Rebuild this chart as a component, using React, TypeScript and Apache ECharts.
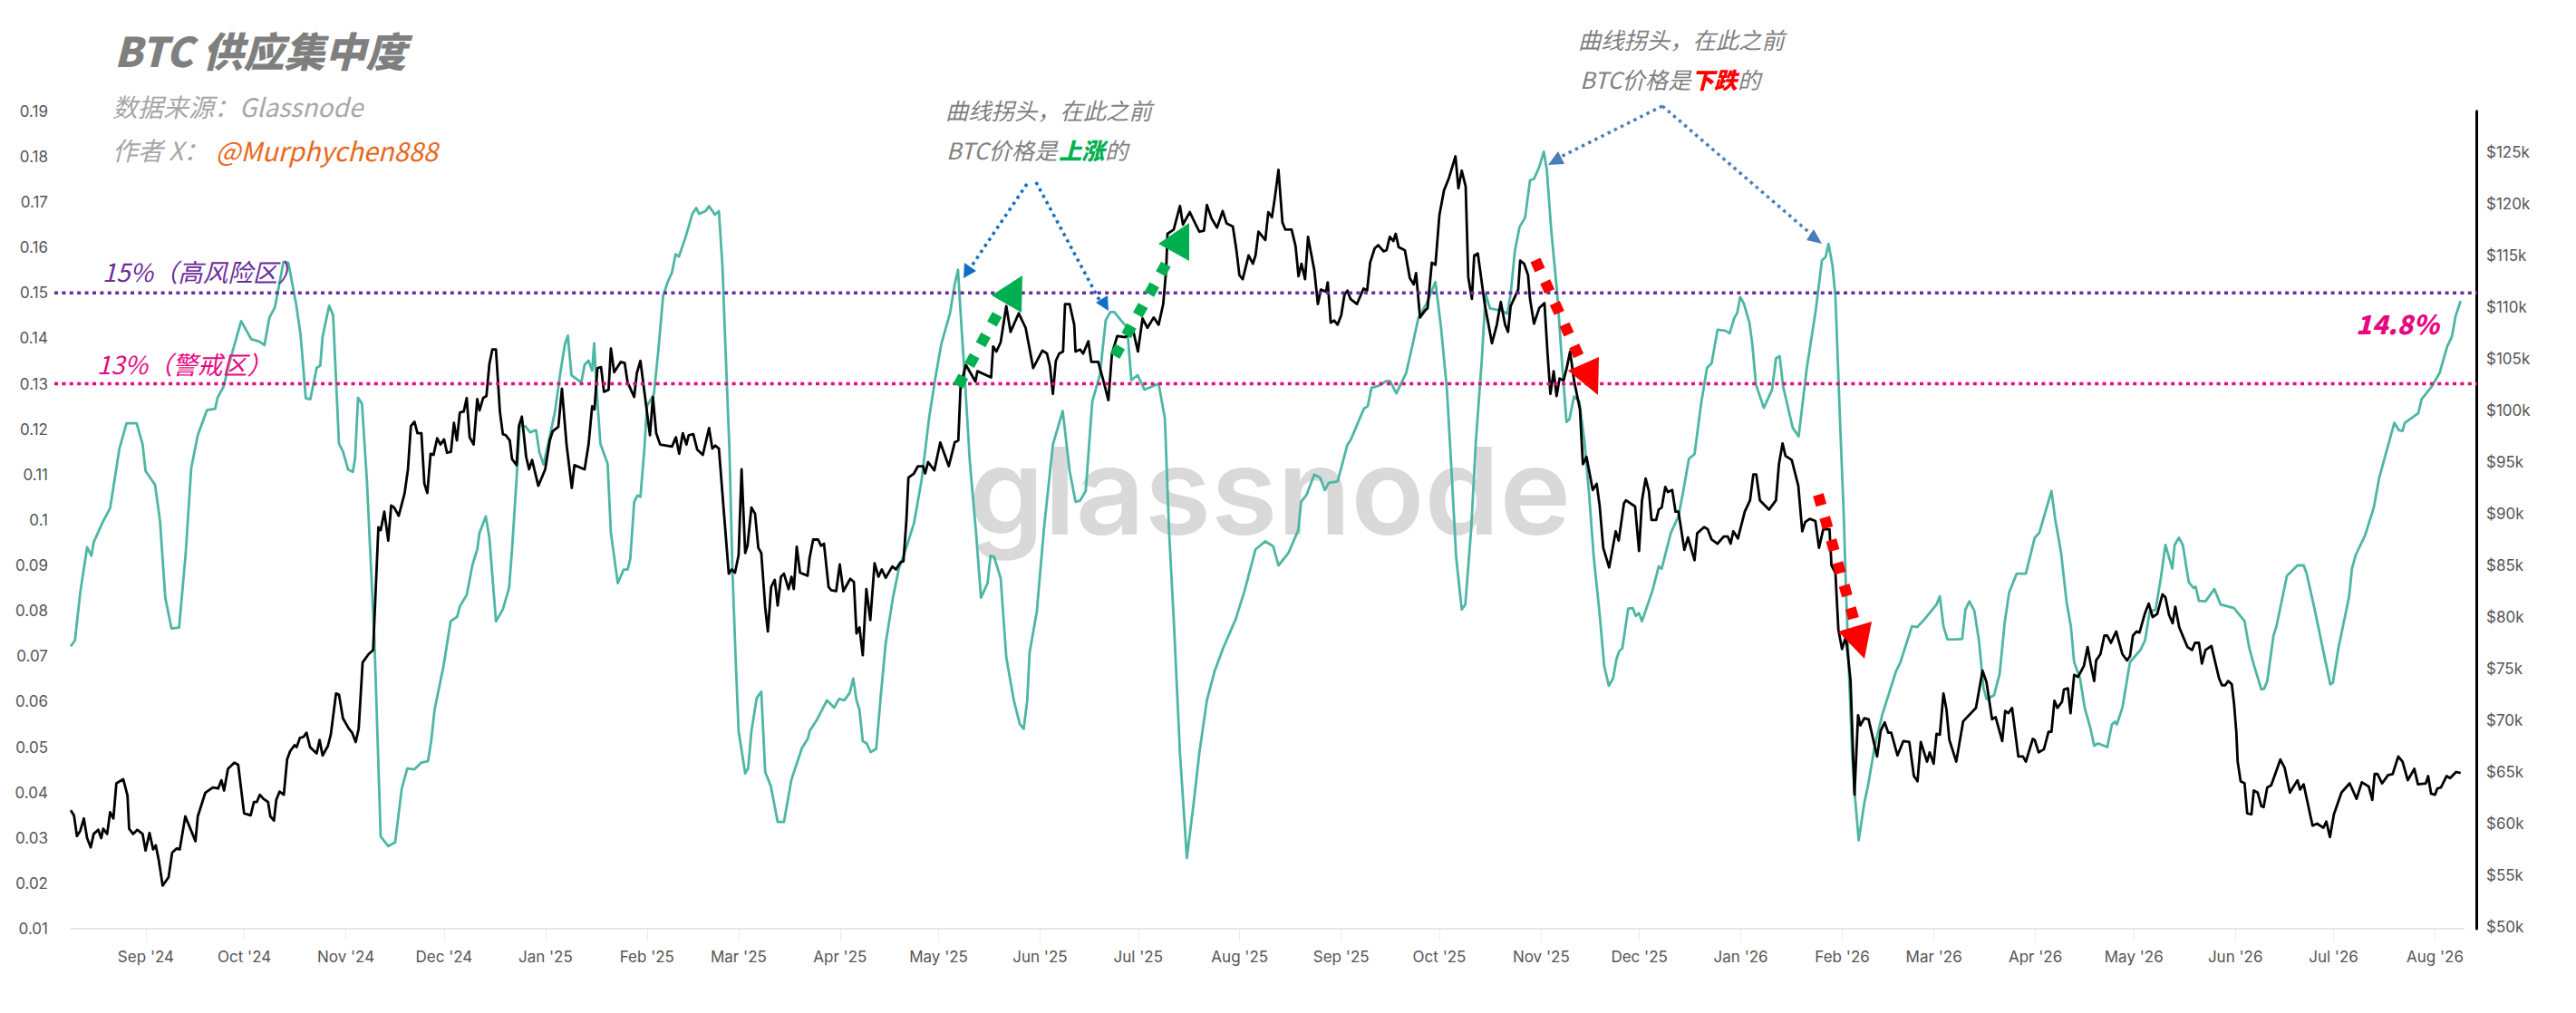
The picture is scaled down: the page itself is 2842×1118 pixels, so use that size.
import React, { useEffect, useRef } from "react";
import * as echarts from "echarts";

// x is days since the left edge of the chart (about 9 Aug 2024)
const monthLabels = [
  "Sep '24", "Oct '24", "Nov '24", "Dec '24", "Jan '25", "Feb '25", "Mar '25", "Apr '25",
  "May '25", "Jun '25", "Jul '25", "Aug '25", "Sep '25", "Oct '25", "Nov '25", "Dec '25",
  "Jan '26", "Feb '26", "Mar '26", "Apr '26", "May '26", "Jun '26", "Jul '26", "Aug '26",
];
const monthTicks = [
  22.9, 52.9, 83.8, 113.7, 144.6, 175.5, 203.4, 234.3, 264.3, 295.2, 325.1, 356,
  386.9, 416.8, 447.8, 477.7, 508.6, 539.5, 567.4, 598.3, 628.3, 659.2, 689.1, 720,
];
const concentrationTicks = [
  0.01, 0.02, 0.03, 0.04, 0.05, 0.06, 0.07, 0.08, 0.09, 0.1,
  0.11, 0.12, 0.13, 0.14, 0.15, 0.16, 0.17, 0.18, 0.19,
];
const priceTicks = [50, 55, 60, 65, 70, 75, 80, 85, 90, 95, 100, 105, 110, 115, 120, 125];

const HIGH_RISK = 0.15;
const WARNING = 0.13;

// supply concentration, [day, value]
const supplyPoints = [
  [0,.0722],[1.3,.0735],[2.9,.084],[5,.094],[6.3,.0921],[7,.0951],[9.8,.0996],[12,.1026],[13,.1072],[14.8,.1156],
  [17,.1213],[20.1,.1213],[21.9,.1166],[22.8,.1108],[25.7,.1077],[27.2,.0998],[28.8,.0829],[30.7,.0761],[33,.0763],[35,.0924],
  [36.7,.1114],[38.7,.1187],[41.5,.1242],[44,.1245],[44.7,.1269],[46.5,.1293],[48.9,.1361],[51.9,.1438],[55,.1398],[57.4,.1393],
  [59,.1385],[60.5,.1445],[62.2,.1469],[64.8,.1568],[66.3,.1566],[68.6,.1477],[70,.1408],[71.6,.1268],[73,.1266],[74.9,.1335],
  [76,.134],[76.7,.1403],[78.7,.1472],[79.9,.1451],[81.7,.1168],[82.9,.1151],[84.5,.1111],[85.9,.1106],[86.6,.1135],[87.5,.1269],
  [88.7,.1256],[90.2,.1087],[92.5,.0735],[94.4,.0303],[96.7,.0282],[98.8,.029],[100.8,.0408],[102.5,.0453],[104.7,.0451],[106.8,.0466],
  [108.8,.0469],[109.8,.0514],[110.8,.0582],[113.5,.0677],[115.7,.0777],[117.7,.0787],[118.5,.081],[120.6,.0835],[122.4,.0903],[123.8,.0935],
  [124.5,.0972],[126.4,.1008],[127.5,.0961],[129.5,.0777],[131.6,.0803],[133.5,.0851],[134.4,.0935],[135.8,.1093],[136.7,.1208],[138.5,.1206],
  [139.9,.1193],[141.7,.1198],[142.7,.115],[144,.1122],[146.3,.1198],[147.5,.124],[149.1,.1324],[150.5,.1387],[151.4,.1406],[152.5,.1319],
  [155.5,.1303],[156.5,.1342],[157.7,.1351],[158.8,.1329],[159.4,.1389],[160.1,.1293],[161.3,.1168],[163.5,.1124],[164.5,.0972],[166.6,.0861],
  [168.4,.0891],[169.6,.0891],[170.4,.0914],[171.6,.104],[172.6,.1054],[173.5,.1051],[174.7,.1156],[175.5,.1251],[177.6,.1277],[179,.1377],
  [180.4,.1493],[181.8,.1524],[183.1,.1545],[184.2,.1585],[185.2,.158],[187.3,.1624],[189.3,.1674],[190.5,.1687],[191.4,.1674],[193.3,.168],
  [194.4,.1691],[196.2,.1672],[197.4,.168],[198.5,.1556],[199.4,.1377],[200.6,.1156],[201.5,.0893],[202.5,.0693],[203.4,.0535],[205.4,.0442],
  [206.3,.0453],[207.3,.0535],[208.9,.0608],[210.3,.0622],[211.5,.0445],[213.2,.0414],[215.3,.0335],[217.2,.0335],[219.5,.0429],[222.7,.0498],
  [224.5,.0519],[225,.0535],[227.3,.0561],[230.3,.0603],[232.5,.0587],[234,.0606],[235.6,.0603],[237.2,.0619],[238.3,.0651],[239.3,.0603],
  [240.2,.0582],[241.2,.0513],[242.4,.0508],[243.6,.0489],[245.3,.0496],[246.7,.0614],[248.2,.0729],[250.4,.0829],[252.2,.0893],[254.5,.094],
  [256.8,.0993],[259.1,.1087],[261.4,.1224],[263.2,.1308],[265.1,.1387],[267.8,.1456],[269.2,.1519],[270.2,.1551],[271,.1456],[272.4,.1298],
  [273.8,.1129],[275.7,.0972],[277.2,.0829],[279.2,.0861],[280.1,.0921],[281.2,.0919],[283.2,.0872],[284.9,.0698],[287.2,.0603],[289,.0551],
  [290.2,.054],[291.3,.0603],[292,.0708],[294.2,.0798],[296.4,.0982],[299.1,.1166],[302.1,.124],[304.2,.1108],[306,.104],[307.4,.1043],
  [309.1,.1064],[311.1,.1261],[313.4,.1319],[315.2,.144],[316.6,.1458],[317.8,.1458],[319.8,.144],[321.7,.1424],[323,.1308],[324.9,.1319],
  [327,.1287],[331.3,.13],[333.2,.1224],[334.5,.0972],[335.9,.0782],[337.8,.0487],[339.9,.0256],[341.9,.0372],[343.7,.0487],[346,.0603],
  [348.3,.0666],[350.9,.0717],[354.8,.0782],[357.5,.0845],[360.8,.0935],[362.1,.0943],[363.8,.0953],[366.2,.0942],[367.8,.09],[370.8,.0927],
  [373.8,.0977],[374.7,.104],[376.4,.1056],[378.7,.11],[380.5,.1093],[381.9,.1066],[383.1,.1082],[385.8,.1085],[388.8,.1166],[389.7,.1175],
  [393.8,.1245],[395,.1251],[396.1,.1291],[398.4,.1296],[400.7,.1306],[401.8,.1306],[403.7,.1279],[406.7,.1324],[409,.1398],[410.4,.1445],
  [412.9,.1477],[415.6,.1524],[417.3,.1424],[419.1,.1287],[420.5,.1108],[421.9,.0919],[423.6,.0803],[424.7,.0814],[426.5,.0982],[427.9,.1172],
  [429.7,.1351],[430.9,.1498],[432.2,.1466],[435.7,.1461],[437.5,.1454],[438.5,.1498],[439.8,.1593],[441.2,.1645],[442.9,.1666],[444.4,.1748],
  [445.6,.1751],[447.2,.1777],[448.6,.1811],[449.5,.1772],[450.9,.1635],[452.7,.1498],[454.1,.1351],[455.5,.1216],[456.4,.1222],[457.8,.1272],
  [459.4,.1261],[461,.1172],[462.4,.1056],[463.8,.0919],[465.6,.0793],[467,.0678],[468.4,.0635],[469.7,.0651],[470.7,.0693],[471.6,.0712],
  [472.5,.0717],[474.3,.0805],[475.7,.0806],[476.6,.0789],[477.6,.0795],[478.5,.0777],[481.7,.0845],[483.6,.0898],[484.5,.0893],[487.3,.0972],
  [489.6,.1008],[491,.1061],[492.8,.1135],[494.5,.1145],[496.5,.1256],[498.3,.1335],[499.7,.1345],[501.5,.1419],[503.8,.1417],[505.2,.1411],
  [506.6,.1445],[507.5,.1456],[508.4,.1491],[509.5,.1477],[511.2,.1435],[512.1,.1387],[513.2,.1298],[515.6,.1247],[518.1,.1287],[519.3,.1356],
  [520.4,.1361],[521.5,.1293],[524.4,.1203],[526.2,.1184],[528.7,.1335],[531.4,.1461],[533.3,.1572],[534.4,.1579],[535.3,.1608],[536.5,.1561],
  [537.4,.1493],[538.8,.1219],[539.9,.1019],[540.6,.0851],[541.6,.0651],[542.5,.0482],[543.4,.0387],[544.5,.0295],[546.2,.0377],[547.3,.0414],
  [549.4,.0503],[551.7,.0572],[555.8,.0666],[557.2,.0687],[560.7,.0766],[562.3,.0764],[564.6,.0782],[568.2,.0814],[569.2,.0832],[570.3,.0766],
  [571.5,.0737],[574.2,.0737],[576,.0738],[577,.0803],[578.2,.0821],[579.7,.08],[581.1,.0735],[582.5,.063],[583.4,.0606],[585.7,.0614],
  [587.4,.0661],[589,.0777],[590.3,.084],[592.6,.0882],[595.4,.0882],[598.1,.0961],[599.5,.0972],[603.2,.1064],[604.3,.1003],[606.1,.0929],
  [607.8,.0819],[609.1,.0766],[610.1,.0687],[611.9,.0651],[613.3,.0587],[615.1,.054],[616.2,.0503],[617.4,.0508],[620.2,.05],[621.6,.055],
  [622.5,.0556],[623.1,.055],[624.8,.0587],[627.1,.0687],[630.3,.0714],[631.7,.0735],[633.1,.0798],[634.9,.0803],[636.5,.0872],[637.9,.0945],
  [640,.0893],[640.7,.0945],[642,.0961],[643.2,.0945],[645,.0863],[646.4,.0851],[647.1,.0853],[648.1,.0822],[650.1,.0821],[652.8,.0848],
  [654.7,.0814],[658.8,.0806],[662,.0777],[663.4,.0719],[664.8,.0682],[667.1,.0627],[668,.0629],[668.9,.0645],[670.8,.0745],[671.7,.0766],
  [674.9,.0877],[678.1,.09],[680,.09],[680.9,.0882],[683.2,.0808],[688.1,.0638],[688.9,.0642],[690.6,.0719],[693.8,.083],[694.7,.0893],
  [695.9,.0924],[698.7,.0966],[701.4,.1029],[703,.1093],[707.6,.1214],[709,.1198],[710.1,.1196],[710.8,.1214],[714.9,.1235],[715.9,.1266],
  [719.1,.1295],[721.4,.1324],[723.7,.1382],[725.1,.1403],[726.3,.145],[727.8,.1482],
];

// BTC price in $k, [day, value]
const pricePoints = [
  [0,61.3],[1,60.8],[1.9,58.8],[2.9,59.3],[4,60.5],[5,58.6],[6.1,57.7],[7,59],[8.4,59.4],[9.3,58.6],
  [9.9,59.5],[11.1,59],[12,61.1],[13,60.5],[13.9,63.9],[16,64.3],[17.3,62.7],[17.8,59.5],[19,59],[20.3,59.4],
  [21.9,59],[22.8,57.4],[24,59.1],[25.1,57.5],[25.9,57.9],[26.8,56.5],[28,54],[29.8,54.8],[30.9,57.2],[32.3,57.6],
  [33.2,57.5],[34.9,60.7],[38,58.3],[38.7,60.7],[39.6,61.6],[41,63],[43.3,63.5],[44.9,63.4],[45.9,64.2],[46.7,63.2],
  [47.9,65.3],[49.8,65.9],[51,65.7],[52.8,61],[54.8,60.8],[55.8,62.1],[56.7,62.1],[57.6,62.8],[58.7,62.4],[60.1,62.1],
  [60.8,60.7],[61.9,60.3],[62.6,62.3],[63.6,63.1],[64.9,62.8],[65.9,66.2],[66.8,67],[68.2,67.6],[68.8,67.4],[69.8,68.3],
  [70.9,68.4],[71.8,68.8],[72.9,67.4],[74.9,66.8],[75.8,68.1],[76.7,66.6],[78.3,67.5],[79.2,68.6],[80.8,72.6],[81.7,72.5],
  [82.9,70.2],[84.7,69.2],[85.7,68.8],[86.8,67.9],[87.7,69.2],[88.9,75.6],[90.7,76.4],[92.1,76.8],[93.7,88.7],[94.4,88.4],
  [95.5,90.2],[96.7,87.4],[97.6,90.8],[98.5,90.6],[99.9,89.8],[101.7,92],[102.7,94.3],[103.6,98.5],[104.7,98.9],[105.6,97.8],
  [106.8,97.8],[107.7,92.9],[108.6,92],[109.6,95.8],[110.5,95.7],[111.6,97.3],[112.6,96.7],[113.7,97.2],[114.6,95.9],[115.8,96],
  [116.7,98.8],[117.6,97.1],[118.5,99.8],[119.7,99.9],[120.6,101.2],[121.5,97.4],[122.7,96.7],[123.8,101.1],[124.5,100],[125.6,101.2],
  [126.6,101.4],[127.5,104.5],[128.4,105.9],[129.5,105.9],[130.7,99.9],[131.6,97.7],[132.5,97.6],[133.7,97.1],[134.4,95.3],[135.8,94.7],
  [136.5,98.5],[137.4,99.4],[138.7,95.5],[139.6,94.3],[140.5,95.2],[142.4,92.7],[144.5,94.3],[145.9,97.1],[146.8,98],[148.5,98.4],
  [149.6,102.1],[151,96.7],[152.6,92.5],[153.4,94.7],[156.5,94.3],[157.7,96.7],[158.8,100.4],[159.5,100.1],[160.4,104.1],[161.5,104.2],
  [162.4,101.8],[163.8,102],[164.5,106],[165.5,103.7],[167.5,104.7],[168.7,104.6],[169.6,102.7],[171.6,101.3],[172.4,103.6],[173.5,104.8],
  [176.4,97.6],[177.3,101.3],[178.3,97.8],[179.5,96.7],[183.1,96.5],[184.3,97.4],[185.3,95.8],[186.4,97.8],[187.5,96.7],[188.2,97.6],
  [189.6,97.7],[190.8,96.2],[192.5,95.7],[194.4,98.3],[195.4,96.3],[196.3,96.6],[197.4,96.3],[198.8,90.6],[200.4,84.2],[201.3,84.6],
  [202.3,84.3],[203.4,86],[204.3,94.3],[205.4,86.2],[206.1,86.9],[207.3,90.6],[208.4,90],[209.4,86.7],[210.3,86.2],[211.5,80.9],
  [212.3,78.6],[213.3,82.9],[214.4,83.6],[215.3,81.1],[216.3,83.9],[217.2,84.2],[218.6,82.7],[219.5,83.9],[220.2,82.7],[221.1,86.8],
  [222.1,84.3],[224.4,84],[225,85.7],[226.1,87.5],[227.6,87.5],[228.5,86.9],[229.4,87.1],[230.8,82.9],[231.6,82.6],[233.1,82.5],
  [234.2,85.1],[235.3,82.5],[237.4,83.7],[238.5,83.4],[239.3,78.4],[240.2,79],[241.2,76.3],[242.3,82.7],[243.5,79.7],[244.8,85.2],
  [246,83.9],[247,84.6],[248.2,83.8],[250.2,84.9],[251.3,84.6],[252.7,85.3],[253.6,85.4],[254.5,89.4],[255.1,93.5],[256.8,93.9],
  [258,94.6],[259.6,94.6],[260.2,93.9],[261.1,95],[263,94.2],[264.8,96.9],[267.4,94.6],[269.2,96.9],[270.3,97.1],[271,102.4],
  [272.6,104.4],[275.5,102.8],[276.1,103.8],[280.3,103.2],[280.9,106.2],[281.9,105.7],[283.2,106.6],[284.9,110.1],[286.2,107.6],[288.7,109.4],
  [290.8,108],[293.1,104.1],[295.9,105.8],[297.3,105.5],[298.2,104.3],[299.1,101.6],[300,104.8],[301,105.5],[302.2,105.7],[302.8,110.3],
  [304.2,110.3],[305.6,108.3],[306,105.7],[307.4,105.9],[308.3,105.5],[309.9,106.7],[310.8,104.7],[312.9,104.7],[314.3,103.1],[316,101],
  [317.1,105.5],[318.7,107.2],[321.2,107.1],[323.5,107.8],[325,105.7],[326.4,108.9],[327.9,108],[329.8,109],[331.3,108.3],[332.7,110.3],
  [333.6,113.6],[334,117.1],[335.9,117.5],[337.8,119.8],[338.7,118],[340.8,119.2],[342.6,118],[343.7,117.3],[345.1,117.4],[346,119.9],
  [347.4,118.6],[349.1,117.7],[350.8,119.3],[352,118.1],[353.9,117.8],[355,115.5],[355.9,113.1],[356.9,112.7],[358.7,115],[360,114.2],
  [360.8,115],[361.7,117.3],[363.8,116.5],[364.7,119.2],[365.8,118.7],[366.7,120.6],[367.8,123.3],[369,118.2],[369.9,117.5],[371.8,117.5],
  [373,115.9],[373.9,113],[374.8,114.2],[375.9,112.7],[376.8,116.8],[378.7,113.6],[379.8,110.3],[380.7,111.7],[382.3,111.5],[382.8,112.4],
  [383.7,108.5],[384.8,108.7],[385.8,108.3],[386.9,109.2],[387.9,111.2],[388.8,111.6],[389.7,110.8],[391.7,110.3],[393.7,111.8],[394.8,111.6],
  [395.7,114.3],[397.1,115.7],[398.2,116],[399.8,115.4],[400.7,115.5],[401.7,116.8],[402.8,116.4],[403.5,117.1],[404.4,115.8],[406.3,115.5],
  [407.8,112.8],[409,112.2],[409.7,113.3],[410.9,109],[412.5,109.7],[413.2,109.9],[414.5,114.3],[415.6,114.1],[416.8,118.9],[418.2,121.3],
  [419.6,122.4],[421.7,124.6],[422.6,121.5],[423.6,123.2],[424.8,121.7],[425.6,112.9],[426.7,110.8],[427.4,115],[428.5,115.2],[430.6,110.3],
  [432.8,106.5],[434.3,108.3],[435.5,110.5],[436.8,108.3],[437.7,107.6],[438.5,110.1],[440.8,111.7],[441.4,114.5],[442.6,114.2],[443.8,113.1],
  [444.4,110.8],[445.6,108.4],[447.2,109.9],[448.8,110.4],[449.7,105.7],[450.6,101.6],[451.6,103.8],[452.5,101.4],[453.4,103.1],[454.6,102.9],
  [455.5,104],[456.6,105.7],[457.8,102.9],[459.6,100.1],[460.5,94.8],[461.6,95.5],[463.5,92.3],[464.7,92.9],[465.6,90.8],[466.7,86.7],
  [468.5,84.8],[470.5,88.3],[471.4,87.4],[473,91],[473.6,91.3],[476.4,90.7],[477.6,86.4],[478.5,91.3],[479.6,93.4],[480.6,92.2],
  [481.4,89.4],[482.8,89.4],[483.6,90.4],[484.5,90.6],[485.6,92.6],[486.4,92.1],[487.7,92.3],[488.7,90.2],[489.6,90.2],[491.4,86.5],
  [492.5,87.7],[494.5,85.5],[495.3,88.1],[497.4,88.7],[498.5,88.5],[499.7,87.5],[501.5,87.1],[503.4,87.8],[504.6,87.8],[505.5,87.1],
  [506.3,88.3],[507.7,87.6],[509.8,90.2],[511.4,91.3],[512.4,93.8],[513.3,93.8],[514.4,91.3],[517.2,90.4],[519.3,91.3],[520.2,94.8],
  [521.3,96.8],[522.2,95.6],[524.1,95.2],[526.1,92.7],[527.3,88.3],[528.2,89.2],[529.6,89.5],[531.3,89.3],[532.4,86.7],[533.7,88.5],
  [535.6,88.5],[536.2,85],[537.4,84.3],[538.3,78.8],[539.4,76.9],[540.6,78.1],[542,73.9],[543.2,62.8],[544.3,70.5],[545,69.5],
  [546.2,70.2],[547.5,70.1],[550.1,66.5],[551.2,69],[552.4,69.8],[553.5,68.8],[554.4,68.8],[556.3,66.6],[558.1,68],[559.9,67.9],
  [561.3,64.6],[562.4,64.1],[563.4,67.9],[565.3,66],[566.1,66.9],[567.3,65.8],[568.2,68.7],[569.2,68.6],[570.3,72.6],[571.2,71.1],
  [572.1,68.1],[574.2,66],[576.3,69.9],[580.2,71.2],[582.2,74.8],[583.4,73.7],[585.1,70.1],[586.2,70.3],[588.2,68],[589.1,70.9],
  [590.1,70.7],[591.2,71.2],[593.1,66.5],[594.5,66.5],[595.4,66],[597.5,68.2],[598.1,68.1],[599.3,66.9],[600.9,67.2],[602.3,68.9],
  [603.2,68.9],[604.1,71.9],[605,71.2],[606.4,71.8],[607,73],[608.2,73.1],[609,70.7],[610.1,74.4],[611.3,74.2],[613.1,75.3],
  [614.2,77.1],[615.1,75.5],[616.2,73.8],[616.8,75.8],[618.1,76.4],[619.3,78.2],[620.2,78.2],[621.3,77.5],[622.9,78.6],[624.8,76.4],
  [626.2,75.8],[627.1,76.2],[628,78.2],[629.1,78.6],[630,78.5],[631.7,80.4],[632.8,81.3],[634,80],[635.4,80.3],[637,82.2],
  [637.9,81.9],[639,80.2],[640.1,79.4],[640.9,81],[642.1,79],[644.6,77.1],[646,76.8],[646.9,77.5],[648.1,77.5],[649,75.5],
  [650.1,76.8],[651.9,77.2],[654.2,74.1],[655.1,73.4],[656.1,73.4],[657,73.8],[658.1,73.5],[658.8,71.6],[659.5,68.8],[659.9,66],
  [660.8,64.1],[662,63.9],[662.8,61],[664.1,60.9],[664.8,63.2],[666,63],[667.1,61.7],[667.8,61.6],[668.9,63.5],[670.1,63.7],
  [672.9,66.2],[674.2,65.4],[675.8,63],[678.1,64.2],[678.9,63.3],[680,63.8],[682.7,59.8],[684.1,60],[686,59.6],[686.9,60.2],
  [688,58.7],[689.2,60.9],[691.5,63],[694,63.9],[696.1,62.4],[697.7,64],[699.8,63.6],[700.9,62.3],[701.6,64.8],[702.5,64.8],
  [703.9,63.9],[705.7,64.7],[707.1,64.8],[708.8,66.5],[710.1,66],[711.7,64.2],[713.7,65.3],[714.8,63.8],[717.2,63.9],[717.9,64.6],
  [718.8,62.9],[720,62.8],[720.7,63.4],[721.8,63.5],[723.5,64.6],[724.6,64.4],[726.4,65],[727.8,64.9],
];

const GREY = "#7f7f7f";
const LIGHT_GREY = "#a6a6a6";
const PURPLE = "#6a2c9b";
const PINK = "#e6097f";
const GREEN = "#00b050";
const RED = "#ff0000";
const BLUE_A = "#0f6fc6";
const BLUE_B = "#4a7ebb";
const CJK = '"Noto Sans CJK SC"';

const label = (text: string, x: number, y: number, size: number, fill: string, weight = "normal") => ({
  type: "text",
  z: 20,
  style: {
    text,
    x,
    y,
    fill,
    font: `italic ${weight} ${size}px ${CJK}`,
    textVerticalAlign: "middle",
  },
});

const dashed = (x1: number, y1: number, x2: number, y2: number, stroke: string, lineWidth: number, lineDash: number[]) => ({
  type: "line",
  z: 20,
  shape: { x1, y1, x2, y2 },
  style: { stroke, lineWidth, lineDash, fill: null },
});

const arrowHead = (points: number[][], fill: string) => ({
  type: "polygon",
  z: 21,
  shape: { points },
  style: { fill },
});

const annotations = [
  label("BTC 供应集中度", 126, 54, 45, GREY, "900"),
  label("数据来源：Glassnode", 124, 117, 28, LIGHT_GREY),
  label("作者 X：", 124, 165, 28, LIGHT_GREY),
  label("@Murphychen888", 238, 165, 29, "#e8681a"),
  label("15%（高风险区）", 113, 299, 27.5, PURPLE),
  label("13%（警戒区）", 107, 401, 27.5, PINK),
  label("曲线拐头，在此之前", 1043, 121, 25.3, GREY),
  label("BTC价格是", 1044, 165, 25.3, GREY),
  label("上涨", 1168, 165, 25.3, GREEN, "900"),
  label("的", 1219, 165, 25.3, GREY),
  label("曲线拐头，在此之前", 1741, 43, 25.3, GREY),
  label("BTC价格是", 1743, 87, 25.3, GREY),
  label("下跌", 1866, 87, 25.3, RED, "900"),
  label("的", 1917, 87, 25.3, GREY),
  label("14.8%", 2599, 356, 29, PINK, "900"),

  dashed(1133, 203, 1069, 298, BLUE_A, 3.5, [3.5, 4.5]),
  dashed(1143, 201, 1215, 335, BLUE_A, 3.5, [3.5, 4.5]),
  arrowHead([[1063, 307], [1064, 290], [1077, 299]], BLUE_A),
  arrowHead([[1223, 343], [1222, 326], [1209, 334]], BLUE_A),
  dashed(1834, 117, 1718, 175, BLUE_B, 3.5, [3.5, 4.5]),
  dashed(1834, 117, 2000, 260, BLUE_B, 3.5, [3.5, 4.5]),
  arrowHead([[1708, 182], [1719, 167], [1726, 181]], BLUE_B),
  arrowHead([[2010, 269], [2001, 253], [1993, 265]], BLUE_B),

  dashed(1057, 426, 1104, 340, GREEN, 12, [12, 14]),
  arrowHead([[1094, 326], [1128, 304], [1127, 345]], GREEN),
  dashed(1230, 393, 1290, 285, GREEN, 12, [12, 14]),
  arrowHead([[1278, 269], [1312, 246], [1312, 288]], GREEN),
  dashed(1694, 287, 1744, 398, RED, 12, [12, 14]),
  arrowHead([[1730, 409], [1764, 394], [1763, 436]], RED),
  dashed(2006, 546, 2046, 686, RED, 12, [12, 14]),
  arrowHead([[2028, 697], [2065, 686], [2057, 727]], RED),
];

export default function App() {
  const chartRef = useRef<HTMLDivElement>(null);

  useEffect(() => {
    const chart = echarts.init(chartRef.current, null, { renderer: "svg" });
    chart.setOption({
      animation: false,
      backgroundColor: "#ffffff",
      grid: { left: 78, right: 124, top: 122.8, bottom: 93 },
      xAxis: {
        type: "value",
        min: 0,
        max: 728.7,
        splitLine: { show: false },
        axisLine: { show: true, onZero: false, lineStyle: { color: "#e6e6e6", width: 2 } },
        axisTick: { show: true, customValues: monthTicks, length: 14, lineStyle: { color: "#ececec", width: 1 } },
        axisLabel: {
          customValues: monthTicks,
          formatter: (v: number) => monthLabels[monthTicks.indexOf(v)],
          margin: 22,
          fontFamily: "Inter",
          fontSize: 17,
          color: "#555555",
        },
      },
      yAxis: [
        {
          type: "value",
          min: 0.01,
          max: 0.19,
          interval: 0.01,
          splitLine: { show: false },
          axisLine: { show: false },
          axisTick: { show: false },
          axisLabel: {
            customValues: concentrationTicks,
            margin: 25,
            padding: [0, 0, 2, 0],
            fontFamily: "Inter",
            fontSize: 17,
            color: "#555555",
          },
        },
        {
          type: "value",
          position: "right",
          offset: 14,
          min: 49.825,
          max: 128.96,
          splitLine: { show: false },
          axisLine: { show: true, lineStyle: { color: "#000000", width: 3 } },
          axisTick: { show: false },
          axisLabel: {
            customValues: priceTicks,
            formatter: (v: number) => `$${v}k`,
            margin: 11,
            fontFamily: "Inter",
            fontSize: 17,
            color: "#555555",
          },
        },
      ],
      series: [
        {
          name: "Supply concentration",
          type: "line",
          yAxisIndex: 0,
          z: 3,
          symbol: "none",
          lineStyle: { color: "#4db6a4", width: 2.8, join: "round" },
          data: supplyPoints,
        },
        {
          name: "BTC price",
          type: "line",
          yAxisIndex: 1,
          z: 4,
          symbol: "none",
          lineStyle: { color: "#000000", width: 2.8, join: "round" },
          data: pricePoints,
        },
      ],
    });

    // threshold lines run past the grid on both sides
    const highY = chart.convertToPixel({ yAxisIndex: 0 }, HIGH_RISK);
    const warnY = chart.convertToPixel({ yAxisIndex: 0 }, WARNING);
    chart.setOption({
      graphic: [
        {
          type: "text",
          z: 1,
          style: {
            text: "glassnode",
            x: 1401,
            y: 541,
            fill: "#d9d9d9",
            font: "600 133px Inter",
            textAlign: "center",
            textVerticalAlign: "middle",
          },
        },
        dashed(60, highY, 2733, highY, PURPLE, 3.6, [4, 4.4]),
        dashed(60, warnY, 2733, warnY, PINK, 3.6, [4, 4.4]),
        ...annotations,
      ],
    });

    return () => chart.dispose();
  }, []);

  return (
    <div
      ref={chartRef}
      style={{ position: "absolute", left: 0, top: 0, width: 2842, height: 1118 }}
    ></div>
  );
}
